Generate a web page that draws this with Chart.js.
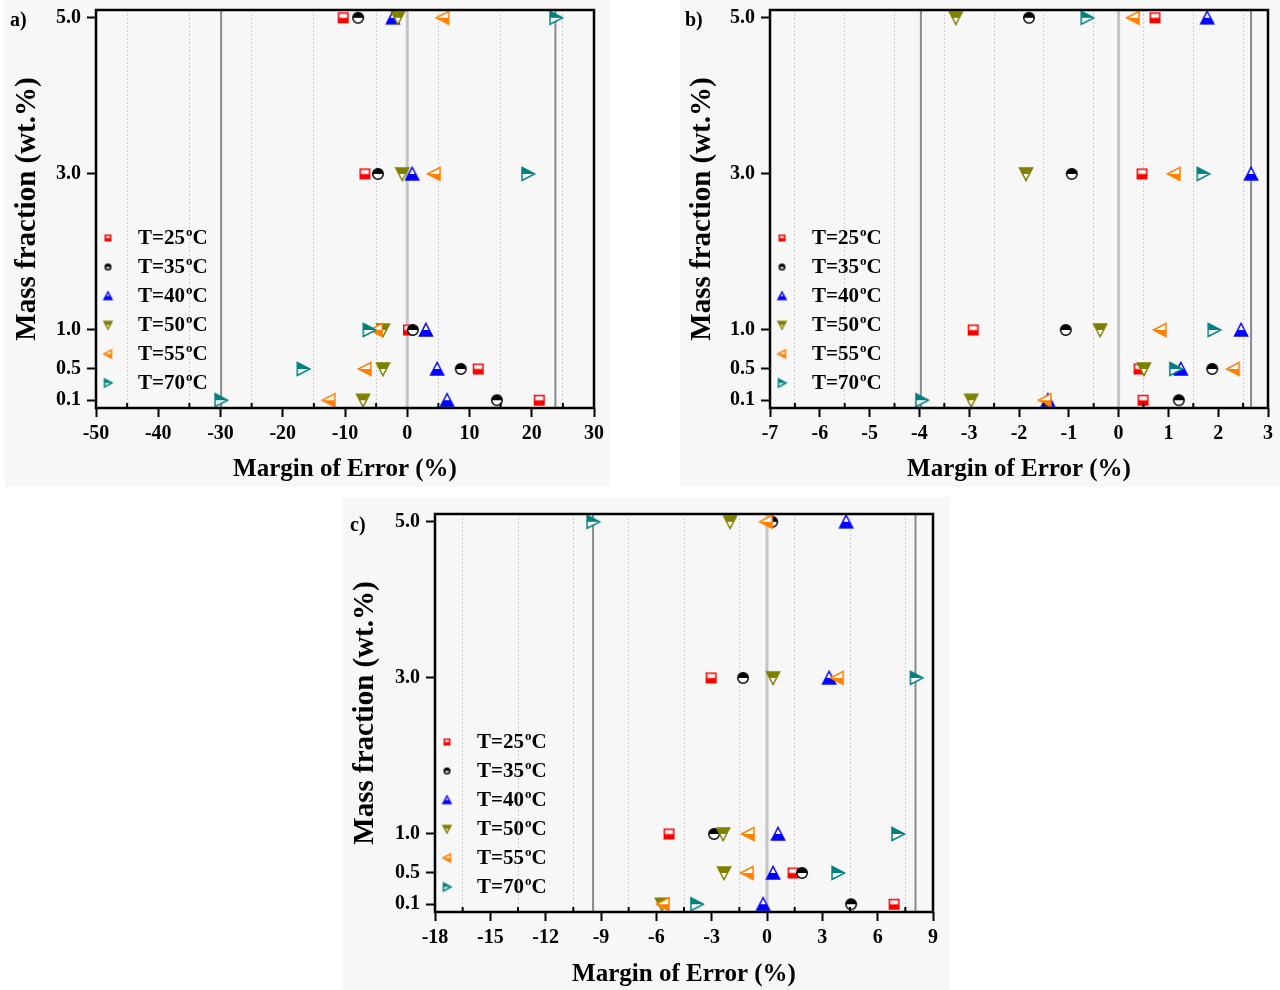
<!DOCTYPE html>
<html>
<head>
<meta charset="utf-8">
<script src="https://cdn.jsdelivr.net/npm/chart.js@4.4.0/dist/chart.umd.min.js"></script>
<style>
  body { margin: 0; background: #fff; width: 1280px; height: 990px; position: relative; overflow: hidden; }
  .panel { position: absolute; background: #f7f7f7; }
  canvas { display: block; }
</style>
</head>
<body>
<div class="panel" style="left:5px;top:0px;width:605px;height:487px"><canvas id="chartA" width="605" height="487"></canvas></div>
<div class="panel" style="left:680px;top:0px;width:600px;height:487px"><canvas id="chartB" width="600" height="487"></canvas></div>
<div class="panel" style="left:343px;top:497px;width:607px;height:493px"><canvas id="chartC" width="607" height="493"></canvas></div>
<script>
"use strict";

// temperatures of the six series (legend)
const temps = [25, 35, 40, 50, 55, 70];
// mass fractions (wt.%) — the y value of every column of the arrays below
const massFraction = [5.0, 3.0, 1.0, 0.5, 0.1];
const yTicks = [0.1, 0.5, 1.0, 3.0, 5.0];
const yMax = 5.1;

// a) margin of error (%), one value per mass fraction
const errA25 = [-10.3, -6.8, 0.2, 11.4, 21.2];
const errA35 = [-7.9, -4.7, 0.9, 8.6, 14.4];
const errA40 = [-2.3, 0.8, 3.0, 4.8, 6.4];
const errA50 = [-1.5, -0.8, -3.9, -3.9, -7.1];
const errA55 = [5.7, 4.3, -5.0, -6.8, -12.6];
const errA70 = [23.9, 19.4, -6.1, -16.7, -29.9];
const limitsA = [-29.9, 23.8];
const xTicksA = [-50, -40, -30, -20, -10, 0, 10, 20, 30];

// b)
const errB25 = [0.73, 0.47, -2.92, 0.41, 0.49];
const errB35 = [-1.8, -0.94, -1.06, 1.88, 1.21];
const errB40 = [1.78, 2.66, 2.46, 1.25, -1.42];
const errB50 = [-3.27, -1.86, -0.37, 0.51, -2.96];
const errB55 = [0.29, 1.11, 0.83, 2.3, -1.48];
const errB70 = [-0.63, 1.7, 1.92, 1.15, -3.95];
const limitsB = [-3.97, 2.66];
const xTicksB = [-7, -6, -5, -4, -3, -2, -1, 0, 1, 2, 3];

// c)
const errC25 = [null, -3.03, -5.31, 1.41, 6.89];
const errC35 = [0.28, -1.3, -2.87, 1.9, 4.56];
const errC40 = [4.29, 3.37, 0.6, 0.33, -0.21];
const errC50 = [-2.0, 0.33, -2.38, -2.33, -5.7];
const errC55 = [-0.05, 3.8, -1.03, -1.08, -5.64];
const errC70 = [-9.43, 8.1, 7.1, 3.85, -3.8];
const limitsC = [-9.43, 8.05];
const xTicksC = [-18, -15, -12, -9, -6, -3, 0, 3, 6, 9];

const colors = ["#ff0000", "#000000", "#0000ff", "#808000", "#ff8000", "#008080"];
const shapes = ["square", "circle", "up", "down", "left", "right"];
const FONT = "'Liberation Serif', 'Times New Roman', serif";

// half-filled marker drawn on a small canvas, used as pointStyle
function makeMarker(shape, color, s) {
  const pad = 2;
  const c = document.createElement("canvas");
  c.width = s + pad * 2;
  c.height = s + pad * 2;
  const g = c.getContext("2d");
  g.translate(pad, pad);
  const h = s / 2;
  const p = new Path2D();
  let fillTop = false;
  if (shape === "square") {
    p.rect(0.75, 0.75, s - 1.5, s - 1.5);
  } else if (shape === "circle") {
    p.arc(h, h, h - 0.75, 0, Math.PI * 2);
    fillTop = true;
  } else if (shape === "up") {
    p.moveTo(h, 0.5); p.lineTo(s - 0.5, s - 1); p.lineTo(0.5, s - 1); p.closePath();
  } else if (shape === "down") {
    p.moveTo(0.5, 1); p.lineTo(s - 0.5, 1); p.lineTo(h, s - 0.5); p.closePath();
    fillTop = true;
  } else if (shape === "left") {
    p.moveTo(0.5, h); p.lineTo(s - 1, 0.5); p.lineTo(s - 1, s - 0.5); p.closePath();
  } else {
    p.moveTo(1, 0.5); p.lineTo(s - 0.5, h); p.lineTo(1, s - 0.5); p.closePath();
    fillTop = true;
  }
  g.fillStyle = "#fff";
  g.fill(p);
  g.save();
  g.clip(p);
  g.fillStyle = color;
  if (fillTop) g.fillRect(0, 0, s, h);
  else g.fillRect(0, h, s, h);
  g.restore();
  g.lineWidth = 1.5;
  g.strokeStyle = color;
  g.stroke(p);
  return c;
}

const markerSize = { square: 11, circle: 12, up: 14, down: 14, left: 14, right: 14 };
const markers = shapes.map((sh, i) => makeMarker(sh, colors[i], markerSize[sh]));
const legendMarkers = shapes.map((sh, i) => makeMarker(sh, colors[i], sh === "square" || sh === "circle" ? 7 : 9));

const isOn = (v, majors) => majors.some(m => Math.abs(m - v) < 1e-6);

// frame, minor ticks, legend and panel letter
const decorPlugin = {
  id: "decor",
  afterDraw(chart, args, opts) {
    const ctx = chart.ctx;
    const a = chart.chartArea;
    const xs = chart.scales.x;
    ctx.save();
    // minor ticks, inward
    ctx.strokeStyle = "#000";
    ctx.lineWidth = 2;
    xs.ticks.forEach(t => {
      if (isOn(t.value, opts.majors)) return;
      const px = xs.getPixelForValue(t.value);
      ctx.beginPath();
      ctx.moveTo(px, a.bottom);
      ctx.lineTo(px, a.bottom - 5);
      ctx.stroke();
    });
    // frame
    ctx.lineWidth = 2.5;
    ctx.strokeRect(a.left, a.top, a.right - a.left, a.bottom - a.top);
    // legend
    temps.forEach((t, i) => {
      const y = a.top + 228 + i * 29;
      const m = legendMarkers[i];
      ctx.drawImage(m, a.left + 12 - m.width / 2, y - m.height / 2);
      let x = a.left + 42;
      ctx.fillStyle = "#000";
      ctx.textBaseline = "middle";
      ctx.textAlign = "left";
      ctx.font = "bold 21px " + FONT;
      const s1 = "T=" + t;
      ctx.fillText(s1, x, y + 1);
      x += ctx.measureText(s1).width + 1;
      ctx.font = "bold 13px " + FONT;
      ctx.fillText("o", x, y - 5);
      x += ctx.measureText("o").width;
      ctx.font = "bold 21px " + FONT;
      ctx.fillText("C", x, y + 1);
    });
    // panel letter
    ctx.font = "bold 20px " + FONT;
    ctx.textBaseline = "middle";
    ctx.fillText(opts.letter, opts.letterX, opts.letterY);
    ctx.restore();
  }
};

function buildChart(id, cfg) {
  const majors = cfg.xTicks;
  const minors = majors.slice(1).map((v, i) => (v + majors[i]) / 2);
  const allTicks = majors.concat(minors).sort((p, q) => p - q);

  const datasets = cfg.errs.map((err, i) => ({
    label: "T=" + temps[i] + "°C",
    data: massFraction.map((y, j) => ({ x: err[j], y: y })).filter(d => d.x !== null),
    pointStyle: markers[i],
    pointRadius: 7,
    order: 6 - i
  }));
  cfg.limits.forEach(v => {
    datasets.push({
      type: "line",
      data: [{ x: v, y: 0 }, { x: v, y: yMax }],
      borderColor: "#8a8a8a",
      borderWidth: 2,
      pointRadius: 0,
      order: 20
    });
  });
  datasets.push({
    type: "line",
    data: [{ x: 0, y: 0 }, { x: 0, y: yMax }],
    borderColor: "#c4c4c4",
    borderWidth: 3,
    pointRadius: 0,
    order: 21
  });

  return new Chart(document.getElementById(id), {
    type: "scatter",
    data: { datasets: datasets },
    options: {
      responsive: false,
      animation: false,
      layout: { padding: { left: 0, top: cfg.top, right: cfg.w - cfg.right, bottom: 0 } },
      plugins: {
        legend: { display: false },
        tooltip: { enabled: false },
        decor: { majors: majors, letter: cfg.letter, letterX: cfg.letterX, letterY: cfg.letterY }
      },
      scales: {
        x: {
          type: "linear",
          min: majors[0],
          max: majors[majors.length - 1],
          afterBuildTicks: s => { s.ticks = allTicks.map(v => ({ value: v })); },
          afterFit: s => { s.height = cfg.h - cfg.bottom; s.paddingLeft = 0; s.paddingRight = 0; },
          ticks: {
            autoSkip: false,
            maxRotation: 0,
            padding: 5,
            color: "#000",
            font: { family: FONT, weight: "bold", size: 20 },
            callback: v => isOn(v, majors) ? String(Math.round(v)) : ""
          },
          grid: {
            color: c => isOn(c.tick.value, majors) ? "rgba(0,0,0,0)" : "#cccccc",
            tickColor: c => isOn(c.tick.value, majors) ? "#000" : "rgba(0,0,0,0)",
            lineWidth: 1,
            tickLength: 9,
            tickWidth: 2
          },
          border: { display: false, dash: [2, 2] },
          title: {
            display: true,
            text: "Margin of Error (%)",
            color: "#000",
            font: { family: FONT, weight: "bold", size: 25 },
            padding: { top: 0, bottom: cfg.xTitlePad }
          }
        },
        y: {
          type: "linear",
          min: 0,
          max: yMax,
          afterBuildTicks: s => { s.ticks = yTicks.map(v => ({ value: v })); },
          afterFit: s => { s.width = cfg.left; s.paddingTop = 0; s.paddingBottom = 0; },
          ticks: {
            padding: 6,
            color: "#000",
            font: { family: FONT, weight: "bold", size: 20 },
            callback: v => Number(v).toFixed(1)
          },
          grid: {
            drawOnChartArea: false,
            tickColor: "#000",
            tickLength: 9,
            tickWidth: 2
          },
          border: { display: false },
          title: {
            display: true,
            text: "Mass fraction (wt.%)",
            color: "#000",
            font: { family: FONT, weight: "bold", size: 29 },
            padding: { top: 5, bottom: 0 }
          }
        }
      }
    },
    plugins: [decorPlugin]
  });
}

buildChart("chartA", {
  errs: [errA25, errA35, errA40, errA50, errA55, errA70],
  limits: limitsA, xTicks: xTicksA,
  w: 605, h: 487, left: 91, right: 589, top: 10, bottom: 408,
  xTitlePad: 2, letter: "a)", letterX: 5, letterY: 21
});
buildChart("chartB", {
  errs: [errB25, errB35, errB40, errB50, errB55, errB70],
  limits: limitsB, xTicks: xTicksB,
  w: 600, h: 487, left: 90, right: 588, top: 10, bottom: 408,
  xTitlePad: 2, letter: "b)", letterX: 5, letterY: 21
});
buildChart("chartC", {
  errs: [errC25, errC35, errC40, errC50, errC55, errC70],
  limits: limitsC, xTicks: xTicksC,
  w: 607, h: 493, left: 92, right: 590, top: 17, bottom: 415,
  xTitlePad: 0, letter: "c)", letterX: 7, letterY: 29
});
</script>
</body>
</html>
